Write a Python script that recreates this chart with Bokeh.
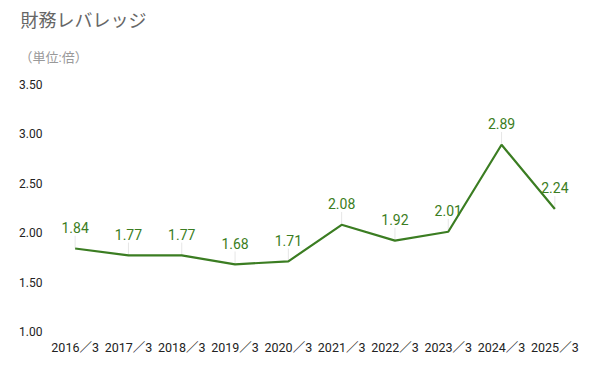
from bokeh.plotting import figure
from bokeh.models import Range1d, FixedTicker, Title, ColumnDataSource
from bokeh.core.properties import value
from bokeh.embed import file_html
from bokeh.resources import INLINE

categories = ["2016／3", "2017／3", "2018／3", "2019／3", "2020／3",
              "2021／3", "2022／3", "2023／3", "2024／3", "2025／3"]
leverage = [1.84, 1.77, 1.77, 1.68, 1.71, 2.08, 1.92, 2.01, 2.89, 2.24]
y_ticks = [1.0, 1.5, 2.0, 2.5, 3.0, 3.5]
title_text = "財務レバレッジ"
unit_text = "（単位:倍）"

GREEN = "#3b7d22"
FONT = "Roboto, 'Noto Sans CJK JP', sans-serif"

xs = list(range(len(categories)))
src = ColumnDataSource(dict(
    x=xs, y=leverage, label=[f"{v:.2f}" for v in leverage],
    ytop=[v + 0.13 for v in leverage],
))

p = figure(width=600, height=371, output_backend="svg", toolbar_location=None,
           x_range=Range1d(-0.5, len(categories) - 0.5),
           y_range=Range1d(y_ticks[0], y_ticks[-1]),
           min_border_left=48, min_border_right=19,
           min_border_top=84, min_border_bottom=40)
p.outline_line_color = None
p.xgrid.grid_line_color = None
p.ygrid.grid_line_color = None
p.background_fill_color = "white"
p.border_fill_color = "white"

p.xaxis.ticker = FixedTicker(ticks=xs)
p.xaxis.major_label_overrides = {i: c for i, c in enumerate(categories)}
p.yaxis.ticker = FixedTicker(ticks=y_ticks)
p.yaxis.major_label_overrides = {t: f"{t:.2f}" for t in y_ticks}
for ax in (p.xaxis[0], p.yaxis[0]):
    ax.axis_line_color = None
    ax.major_tick_line_color = None
    ax.minor_tick_line_color = None
    ax.major_tick_in = 0
    ax.major_tick_out = 0
    ax.major_label_text_font = FONT
    ax.major_label_text_font_size = "12px"
    ax.major_label_text_color = "#222222"
p.xaxis.major_label_text_font_size = "12.5px"
p.xaxis.major_label_standoff = 8
p.yaxis.major_label_standoff = 6

p.segment(x0="x", y0="y", x1="x", y1="ytop", source=src,
          line_color="#e6e6e6", line_width=1)
p.line("x", "y", source=src, line_color=GREEN, line_width=2.2)
p.text("x", "y", text="label", source=src, text_color=GREEN,
       text_font=value(FONT), text_font_size="14px",
       text_align="center", text_baseline="middle", y_offset=-21)

p.add_layout(Title(text=unit_text, align="left", offset=-29, standoff=37,
                   vertical_align="middle", text_baseline="middle",
                   text_font=FONT, text_font_size="13px", text_font_style="normal",
                   text_color="#999999"), "above")
p.add_layout(Title(text=title_text, align="left", offset=-28, standoff=0,
                   vertical_align="bottom", text_baseline="top",
                   text_font=FONT, text_font_size="18px", text_font_style="normal",
                   text_color="#666666"), "above")

open("out.html", "w").write(file_html(p, INLINE))
